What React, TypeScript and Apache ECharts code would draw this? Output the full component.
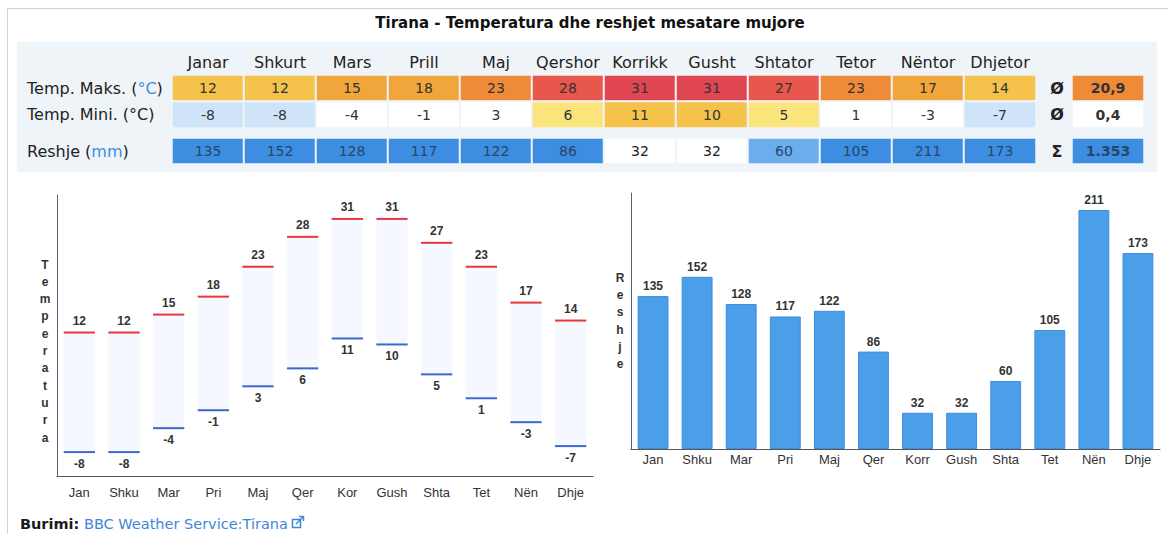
import React, { useEffect, useRef } from 'react';
import * as echarts from 'echarts';

// ---------- data ----------
const tableMonths = ['Janar', 'Shkurt', 'Mars', 'Prill', 'Maj', 'Qershor', 'Korrikk', 'Gusht', 'Shtator', 'Tetor', 'Nëntor', 'Dhjetor'];
const tempMonths = ['Jan', 'Shku', 'Mar', 'Pri', 'Maj', 'Qer', 'Kor', 'Gush', 'Shta', 'Tet', 'Nën', 'Dhje'];
const rainMonths = ['Jan', 'Shku', 'Mar', 'Pri', 'Maj', 'Qer', 'Korr', 'Gush', 'Shta', 'Tet', 'Nën', 'Dhje'];
const tempMax = [12, 12, 15, 18, 23, 28, 31, 31, 27, 23, 17, 14];
const tempMin = [-8, -8, -4, -1, 3, 6, 11, 10, 5, 1, -3, -7];
const rain = [135, 152, 128, 117, 122, 86, 32, 32, 60, 105, 211, 173];
const avgTemp = [20.9, 0.4];
const rainTotal = [1353];
const tempRows = ['Temp. Maks. (°C)', 'Temp. Mini. (°C)'];
const rainRows = ['Reshje (mm)'];
const tempSummaryRows = ['Ø', 'Ø'];
const rainSummaryRows = ['Σ'];
const titleText = 'Tirana - Temperatura dhe reshjet mesatare mujore';
const tempAxisTitle = 'Temperatura';
const rainAxisTitle = 'Reshje';
const sourceLabel = 'Burimi:';
const sourceLink = 'BBC Weather Service:Tirana';

// ---------- styling ----------
const FT = '"DejaVu Sans", sans-serif';
const FC = '"Liberation Sans", Arial, sans-serif';
const BLUE_TXT = '#3d8ee0';
const TABLE_BG = '#eff4f9';

const fmt = (v: number) => {
  if (Number.isInteger(v)) return String(v).replace(/\B(?=(\d{3})+(?!\d))/g, '.');
  return String(v).replace('.', ',');
};

const rowLabel = (highlight: boolean[]) => (v: string, idx: number) => {
  const m = v.match(/^(.*\()(.*)(\))$/);
  if (m && highlight[idx]) return `{a|${m[1]}}{b|${m[2]}}{a|${m[3]}}`;
  return `{a|${v}}`;
};

export default function App() {
  const ref = useRef<HTMLDivElement>(null);

  useEffect(() => {
    if (!ref.current) return;
    const chart = echarts.init(ref.current, undefined, { renderer: 'svg' });

    const tempTable: any[] = [];
    tableMonths.forEach((_, i) => {
      tempTable.push([i, 0, tempMax[i]]);
      tempTable.push([i, 1, tempMin[i]]);
    });
    const rainTable = rain.map((v, i) => [i, 0, v]);
    const tempSummary = avgTemp.map((v, i) => [0, i, v]);
    const rainSummary = rainTotal.map((v, i) => [0, i, v]);

    const hiddenCat = (data: string[], gridIndex: number) => ({
      type: 'category', gridIndex, data,
      axisLine: { show: false }, axisTick: { show: false }, axisLabel: { show: false }, splitLine: { show: false },
    });

    const rowLabelStyle = {
      a: { fontFamily: FT, fontSize: 16, color: '#222' },
      b: { fontFamily: FT, fontSize: 16, color: BLUE_TXT },
    };

    const tableLabel = (bold: boolean) => ({
      show: true,
      formatter: (p: any) => fmt(p.value[2]),
      fontFamily: FT,
      fontSize: 14,
      fontWeight: bold ? 'bold' : 'normal',
      color: '#333',
    });

    const rainLabel = (bold: boolean) => ({
      show: true,
      formatter: (p: any) => (p.value[2] >= 50 ? `{d|${fmt(p.value[2])}}` : `{w|${fmt(p.value[2])}}`),
      rich: {
        d: { fontFamily: FT, fontSize: 14, color: '#26466e', fontWeight: bold ? 'bold' : 'normal' },
        w: { fontFamily: FT, fontSize: 14, color: '#222', fontWeight: bold ? 'bold' : 'normal' },
      },
    });

    const cellStyle = { borderColor: TABLE_BG, borderWidth: 2 };

    const option: any = {
      animation: false,
      backgroundColor: '#ffffff',
      graphic: [
        { type: 'rect', z: 0, shape: { x: 7.5, y: 8.5, width: 1180, height: 540 }, style: { fill: 'none', stroke: '#d2d2d2', lineWidth: 1 } },
        { type: 'rect', z: 0, shape: { x: 17, y: 42, width: 1140, height: 130 }, style: { fill: TABLE_BG } },
        { type: 'text', z: 1, x: 590, y: 23, style: { text: titleText, align: 'center', verticalAlign: 'middle', font: `bold 15px ${FT}`, fill: '#111' } },
        { type: 'text', z: 1, x: 45, y: 351, style: { text: tempAxisTitle.split('').join('\n'), align: 'center', verticalAlign: 'middle', lineHeight: 17.3, font: `bold 12px ${FC}`, fill: '#333' } },
        { type: 'text', z: 1, x: 620, y: 321, style: { text: rainAxisTitle.split('').join('\n'), align: 'center', verticalAlign: 'middle', lineHeight: 17.3, font: `bold 12px ${FC}`, fill: '#333' } },
        {
          type: 'text', z: 1, x: 20, y: 524,
          style: {
            text: `{b|${sourceLabel}} {l|${sourceLink}}`,
            verticalAlign: 'middle',
            font: `14.5px ${FT}`,
            rich: {
              b: { fontWeight: 'bold', fontFamily: FT, fontSize: 14.5, fill: '#1a1a1a' },
              l: { fontFamily: FT, fontSize: 14.5, fill: '#3f86d8' },
            },
          },
        },
        { type: 'rect', z: 1, shape: { x: 292.5, y: 519.5, width: 8, height: 8 }, style: { fill: 'none', stroke: '#3f86d8', lineWidth: 1.5 } },
        { type: 'polyline', z: 1, shape: { points: [[296, 524], [303, 517]] }, style: { fill: 'none', stroke: '#3f86d8', lineWidth: 1.5 } },
        { type: 'polyline', z: 1, shape: { points: [[299, 516.5], [303.5, 516.5], [303.5, 521]] }, style: { fill: 'none', stroke: '#3f86d8', lineWidth: 1.5 } },
      ],
      visualMap: [
        {
          type: 'piecewise', show: false, seriesIndex: [0, 2], dimension: 2,
          pieces: [
            { lt: -5, color: '#cfe4f8' },
            { gte: -5, lt: 5, color: '#ffffff' },
            { gte: 5, lt: 10, color: '#fbe47c' },
            { gte: 10, lt: 15, color: '#f5c34b' },
            { gte: 15, lt: 20, color: '#f1a63c' },
            { gte: 20, lt: 25, color: '#ee8a38' },
            { gte: 25, lt: 30, color: '#e8574b' },
            { gte: 30, color: '#e04552' },
          ],
        },
        {
          type: 'piecewise', show: false, seriesIndex: [1, 3], dimension: 2,
          pieces: [
            { lt: 50, color: '#ffffff' },
            { gte: 50, lt: 80, color: '#6caeec' },
            { gte: 80, color: '#3d8de0' },
          ],
        },
      ],
      grid: [
        { left: 172, top: 75, width: 864, height: 53, containLabel: false, outerBoundsMode: 'none' },
        { left: 172, top: 138, width: 864, height: 26, containLabel: false, outerBoundsMode: 'none' },
        { left: 1072, top: 75, width: 72, height: 53, containLabel: false, outerBoundsMode: 'none' },
        { left: 1072, top: 138, width: 72, height: 26, containLabel: false, outerBoundsMode: 'none' },
        { left: 57, top: 195, width: 536, height: 281, containLabel: false, outerBoundsMode: 'none' },
        { left: 631, top: 193, width: 529, height: 256, containLabel: false, outerBoundsMode: 'none' },
      ],
      xAxis: [
        {
          type: 'category', gridIndex: 0, data: tableMonths, position: 'top',
          axisLine: { show: false }, axisTick: { show: false }, splitLine: { show: false },
          axisLabel: { margin: 5, fontFamily: FT, fontSize: 16, color: '#222', interval: 0 },
        },
        hiddenCat(tableMonths, 1),
        hiddenCat(['avg'], 2),
        hiddenCat(['sum'], 3),
        {
          type: 'category', gridIndex: 4, data: tempMonths,
          axisLine: { show: true, onZero: false, lineStyle: { color: '#555', width: 1 } },
          axisTick: { show: false }, splitLine: { show: false },
          axisLabel: { margin: 10, fontFamily: FC, fontSize: 13, color: '#333', interval: 0 },
        },
        {
          type: 'category', gridIndex: 5, data: rainMonths,
          axisLine: { show: true, onZero: false, lineStyle: { color: '#555', width: 1 } },
          axisTick: { show: false }, splitLine: { show: false },
          axisLabel: { margin: 4, fontFamily: FC, fontSize: 13, color: '#333', interval: 0 },
        },
      ],
      yAxis: [
        {
          type: 'category', gridIndex: 0, data: tempRows, inverse: true,
          axisLine: { show: false }, axisTick: { show: false }, splitLine: { show: false },
          axisLabel: { align: 'left', margin: 145, formatter: rowLabel([true, false]), rich: rowLabelStyle },
        },
        {
          type: 'category', gridIndex: 1, data: rainRows, inverse: true,
          axisLine: { show: false }, axisTick: { show: false }, splitLine: { show: false },
          axisLabel: { align: 'left', margin: 145, formatter: rowLabel([true]), rich: rowLabelStyle },
        },
        {
          type: 'category', gridIndex: 2, data: tempSummaryRows, inverse: true,
          axisLine: { show: false }, axisTick: { show: false }, splitLine: { show: false },
          axisLabel: { align: 'center', margin: 15, fontFamily: FT, fontSize: 16, fontWeight: 'bold', color: '#222' },
        },
        {
          type: 'category', gridIndex: 3, data: rainSummaryRows, inverse: true,
          axisLine: { show: false }, axisTick: { show: false }, splitLine: { show: false },
          axisLabel: { align: 'center', margin: 15, fontFamily: FT, fontSize: 16, fontWeight: 'bold', color: '#222' },
        },
        {
          type: 'value', gridIndex: 4, min: -12, max: 35,
          axisLine: { show: true, onZero: false, lineStyle: { color: '#56617a', width: 1 } },
          axisTick: { show: false }, axisLabel: { show: false }, splitLine: { show: false },
        },
        {
          type: 'value', gridIndex: 5, min: 0, max: 226,
          axisLine: { show: true, onZero: false, lineStyle: { color: '#56617a', width: 1 } },
          axisTick: { show: false }, axisLabel: { show: false }, splitLine: { show: false },
        },
      ],
      series: [
        { type: 'heatmap', xAxisIndex: 0, yAxisIndex: 0, data: tempTable, itemStyle: cellStyle, label: tableLabel(false), emphasis: { disabled: true } },
        { type: 'heatmap', xAxisIndex: 1, yAxisIndex: 1, data: rainTable, itemStyle: cellStyle, label: rainLabel(false), emphasis: { disabled: true } },
        { type: 'heatmap', xAxisIndex: 2, yAxisIndex: 2, data: tempSummary, itemStyle: cellStyle, label: tableLabel(true), emphasis: { disabled: true } },
        { type: 'heatmap', xAxisIndex: 3, yAxisIndex: 3, data: rainSummary, itemStyle: cellStyle, label: rainLabel(true), emphasis: { disabled: true } },
        {
          type: 'custom', xAxisIndex: 4, yAxisIndex: 4,
          data: tempMin.map((v, i) => [i, v, tempMax[i]]),
          encode: { x: 0, y: [1, 2] },
          renderItem: (_params: any, api: any) => {
            const idx = api.value(0);
            const lo = api.value(1);
            const hi = api.value(2);
            const pLo = api.coord([idx, lo]);
            const pHi = api.coord([idx, hi]);
            const w = api.size([1, 0])[0] * 0.7;
            const x0 = pHi[0] - w / 2;
            return {
              type: 'group',
              children: [
                { type: 'rect', shape: { x: x0, y: pHi[1], width: w, height: pLo[1] - pHi[1] }, style: { fill: '#f5f8fe' } },
                { type: 'line', shape: { x1: x0, y1: pHi[1], x2: x0 + w, y2: pHi[1] }, style: { stroke: '#e8363e', lineWidth: 2 } },
                { type: 'line', shape: { x1: x0, y1: pLo[1], x2: x0 + w, y2: pLo[1] }, style: { stroke: '#3a68cc', lineWidth: 2 } },
                { type: 'text', x: pHi[0], y: pHi[1] - 6, style: { text: String(hi), align: 'center', verticalAlign: 'bottom', font: `bold 12px ${FC}`, fill: '#333' } },
                { type: 'text', x: pLo[0], y: pLo[1] + 6, style: { text: String(lo), align: 'center', verticalAlign: 'top', font: `bold 12px ${FC}`, fill: '#333' } },
              ],
            };
          },
        },
        {
          type: 'bar', xAxisIndex: 5, yAxisIndex: 5, data: rain, barWidth: '70%',
          itemStyle: { color: '#4b9fe9', borderColor: '#3d8de0', borderWidth: 1 },
          label: { show: true, position: 'top', distance: 4, fontFamily: FC, fontWeight: 'bold', fontSize: 12, color: '#333' },
          emphasis: { disabled: true },
        },
      ],
    };

    chart.setOption(option);
    return () => chart.dispose();
  }, []);

  return (
    <div
      ref={ref}
      style={{ position: 'fixed', left: 0, top: 0, width: 1168, height: 534, background: '#fff' }}
    />
  );
}
